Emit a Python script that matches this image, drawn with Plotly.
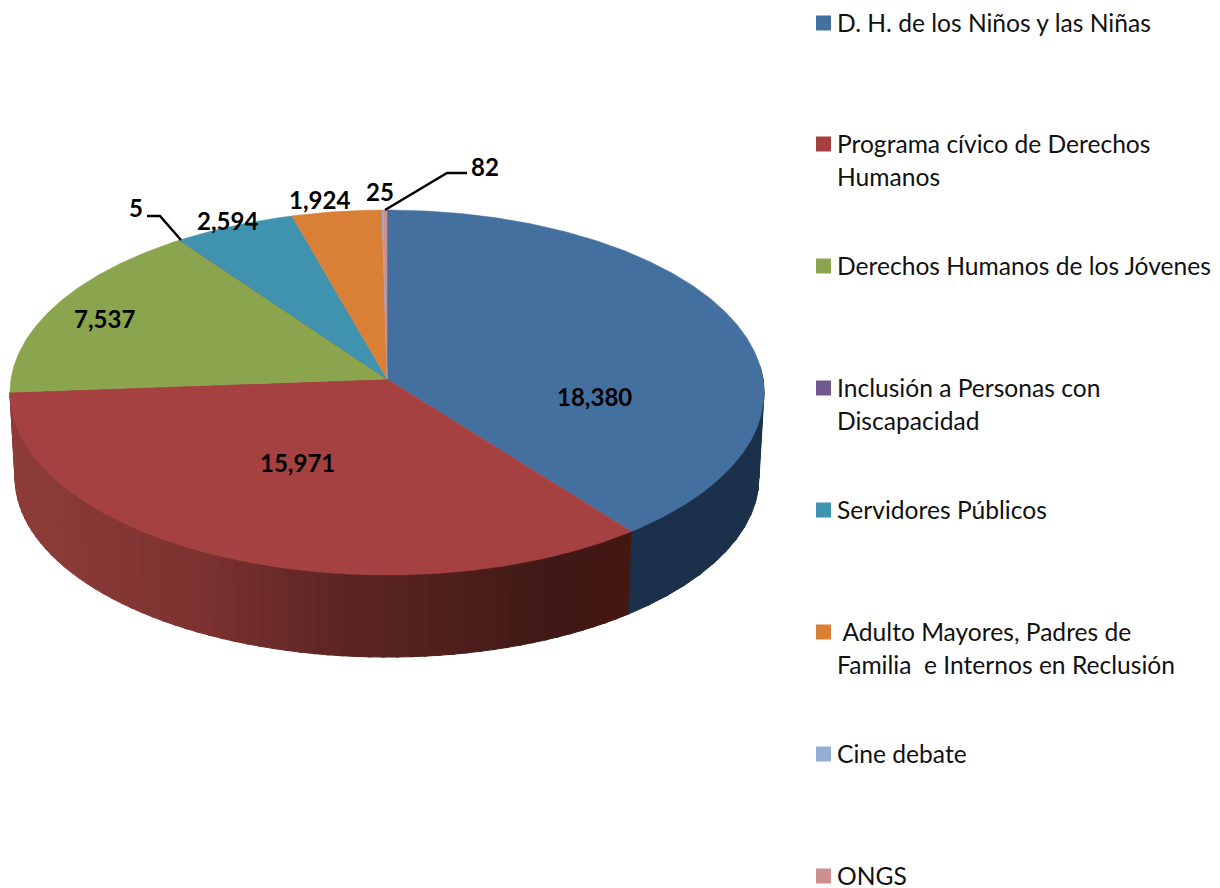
import numpy as np
import plotly.graph_objects as go

categories = ["D. H. de los Niños y las Niñas", "Programa cívico de Derechos<br>Humanos",
              "Derechos Humanos de los Jóvenes", "Inclusión a Personas con<br>Discapacidad",
              "Servidores Públicos", "\u00a0Adulto Mayores, Padres de<br>Familia  e Internos en Reclusión",
              "Cine debate", "ONGS"]
values = [18380, 15971, 7537, 5, 2594, 1924, 25, 82]
colors = ["#44709F", "#A54140", "#8AA54D", "#71588F", "#3F93AE", "#DA7F36", "#95AED4", "#CD8F8E"]
label_pos = [(594, 396), (297, 462), (104, 318), (136, 207), (227, 220), (319, 199), (380, 191), (485, 166)]
legend_y = [22, 143, 265, 387, 509, 631, 753, 875]
swatch_y = [23, 144, 266, 388, 510, 632, 754, 876]

FONT = "Lato"
CX, CY, A, B, K = 387.0, 379.0, 376.0, 181.5, 0.074
A2, B2, CY2 = 371.0, 178.8, 464.0
# shading of the red wall, by horizontal position
shade_x = [10, 60, 200, 330, 480, 560, 632]
shade_r = [0x8E, 0x8A, 0x7C, 0x5F, 0x4B, 0x3F, 0x44]
shade_g = [0x3B, 0x3A, 0x32, 0x26, 0x1E, 0x18, 0x17]
shade_b = [0x39, 0x37, 0x30, 0x24, 0x1B, 0x15, 0x11]


def rim(theta_deg, a=A, b=B, cy=CY):
    t = np.radians(theta_deg)
    u, v = np.sin(t), np.cos(t)
    w = 1 + K * v
    return CX + a * u / w, cy - b * v / w


total = sum(values)
edges = np.concatenate([[0], np.cumsum(values)]) / total * 360.0
fig = go.Figure()


def side(t0, t1, col):
    ts = np.linspace(t0, t1, 6)
    xt, yt = rim(ts)
    xb, yb = rim(ts[::-1], A2, B2, CY2)
    fig.add_trace(go.Scatter(x=np.r_[xt, xb], y=np.r_[yt, yb], fill="toself", fillcolor=col,
                             mode="lines", line=dict(color=col, width=1), hoverinfo="skip", showlegend=False))


# side wall: blue wedge then red wedge (only the near side is visible)
side_blue = np.arange(86, edges[1], 4)
for t in side_blue:
    side(t, min(t + 4.5, edges[1]), "#1B304B")
red_steps = np.arange(edges[1], edges[2], 2.0)
for t in red_steps:
    xm = rim(t + 1)[0]
    rgb = [round(float(np.interp(xm, shade_x, ch))) for ch in (shade_r, shade_g, shade_b)]
    side(t, min(t + 2.5, edges[2]), "#{:02x}{:02x}{:02x}".format(*rgb))

# top surface
for i, (name, col) in enumerate(zip(categories, colors)):
    ts = np.linspace(edges[i], edges[i + 1], max(3, int((edges[i + 1] - edges[i]) * 2)))
    xr, yr = rim(ts)
    fig.add_trace(go.Scatter(x=np.r_[CX, xr, CX], y=np.r_[CY, yr, CY], fill="toself", fillcolor=col,
                             mode="lines", line=dict(color=col, width=0.5), name=name.replace("<br>", " "),
                             hoverinfo="name", showlegend=False))

# leader lines
for lx, ly in [([467, 447, 385], [173, 173, 210]), ([147, 160, 181], [216, 216, 240])]:
    fig.add_trace(go.Scatter(x=lx, y=ly, mode="lines", line=dict(color="#000000", width=2.5),
                             hoverinfo="skip", showlegend=False))

# legend swatches
fig.add_trace(go.Scatter(x=[823.5] * len(categories), y=swatch_y, mode="markers",
                         marker=dict(symbol="square", size=15, color=colors, line=dict(width=0)),
                         hoverinfo="skip", showlegend=False))

anns = []
for v, (x, y) in zip(values, label_pos):
    anns.append(dict(x=x, y=y, text=f"{v:,}", showarrow=False, xanchor="center", yanchor="middle",
                     font=dict(family=FONT, size=24, color="#000000", weight="bold")))
for name, y in zip(categories, legend_y):
    for j, line in enumerate(name.split("<br>")):
        anns.append(dict(x=835, y=y + 33 * j, text=line, showarrow=False, xanchor="left", yanchor="middle",
                         font=dict(family=FONT, size=24.6, color="#111111")))

fig.update_layout(width=1220, height=888, margin=dict(l=0, r=0, t=0, b=0), showlegend=False,
                  paper_bgcolor="white", plot_bgcolor="white", annotations=anns,
                  xaxis=dict(range=[0, 1220], visible=False, fixedrange=True),
                  yaxis=dict(range=[888, 0], visible=False, fixedrange=True))
fig.write_html("out.html", config=dict(displayModeBar=False),
               post_script="document.body.style.margin='0';document.documentElement.style.overflow='hidden';")
